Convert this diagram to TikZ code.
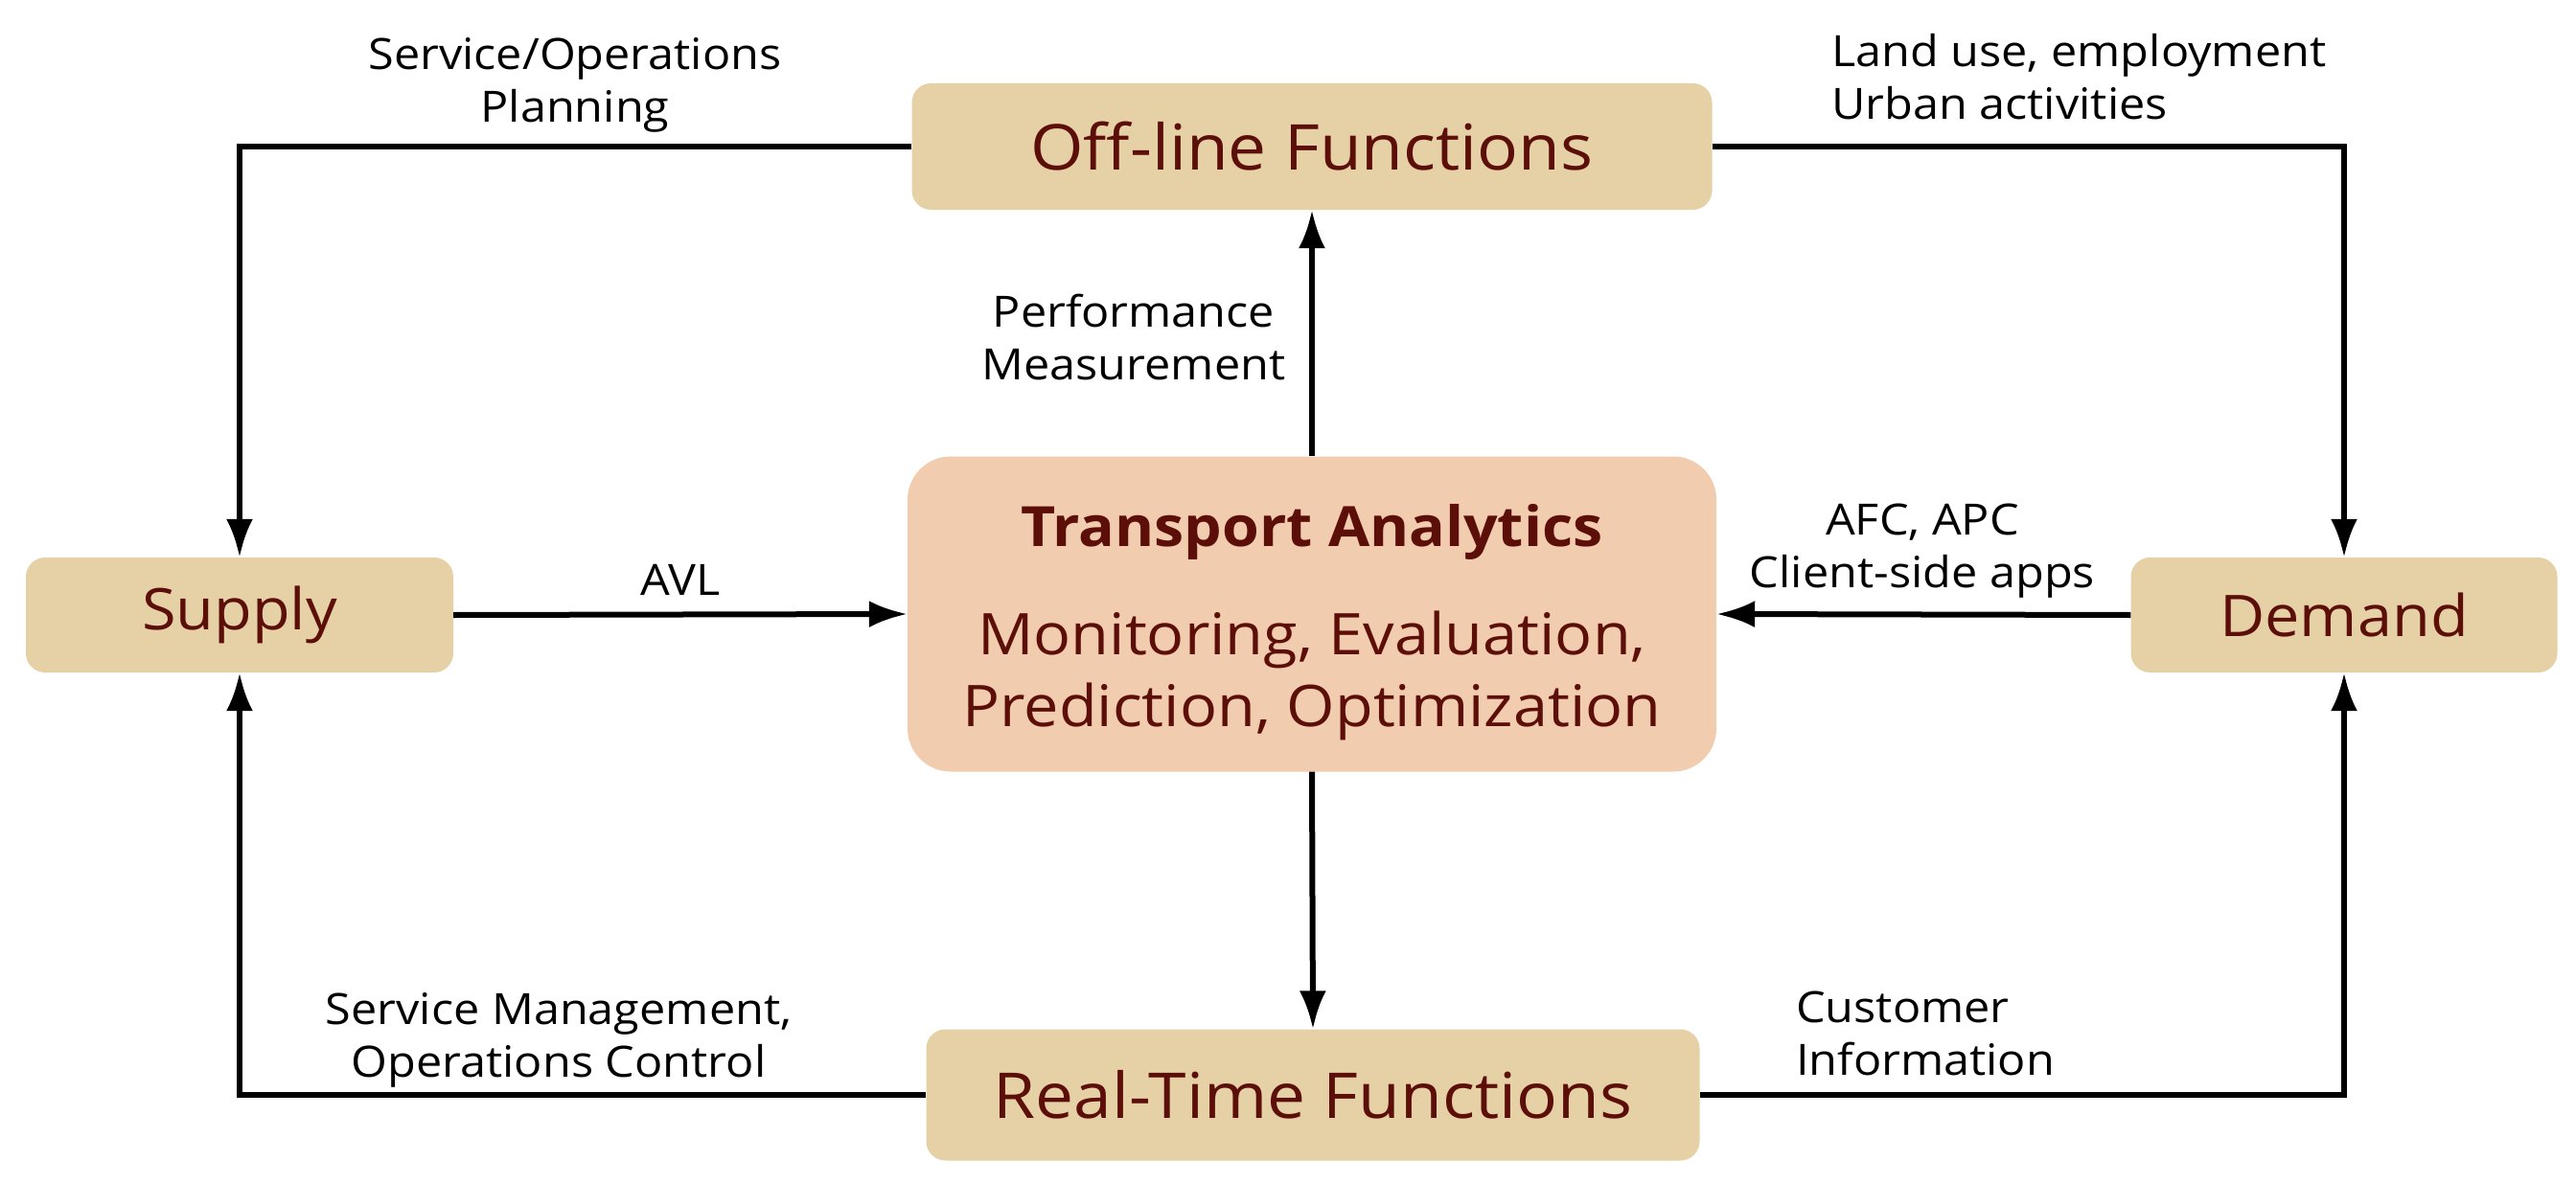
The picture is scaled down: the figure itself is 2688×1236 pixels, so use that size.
\documentclass[tikz,border=0pt]{standalone}
\usepackage{fontspec}
\setmainfont[FakeStretch=1.08]{Open Sans}
\usetikzlibrary{arrows.meta}
\definecolor{tanbox}{RGB}{230,208,165}
\definecolor{peach}{RGB}{242,204,174}
\definecolor{darkred}{RGB}{92,14,8}
\begin{document}
\begin{tikzpicture}[x=1pt,y=-1pt,
  box/.style={draw=none, fill=tanbox, rounded corners=20pt, text=darkred,
    font=\fontsize{60}{75}\selectfont, inner sep=0pt},
  fbox/.style={box, font=\fontsize{66}{75}\selectfont},
  core/.style={draw=none, fill=peach, rounded corners=45pt, text=darkred,
    font=\fontsize{60}{75}\selectfont, inner sep=0pt, align=center},
  lbl/.style={font=\fontsize{45}{55}\selectfont, inner sep=0pt},
  conn/.style={line width=6pt, -{Latex[length=40pt,width=28pt]}}]
\useasboundingbox (0,0) rectangle (2688,1236);
\node[fbox, minimum width=835pt, minimum height=132pt] (off) at (1369,153) {Off-line Functions};
\node[fbox, minimum width=807pt, minimum height=137pt] (rt) at (1370,1143) {Real-Time Functions};
\node[box, minimum width=446pt, minimum height=120pt] (sup) at (250,642) {Supply};
\node[box, minimum width=445pt, minimum height=120pt] (dem) at (2446,642) {Demand};
\node[core, minimum width=844pt, minimum height=329pt] (ta) at (1369,641)
  {\rule{0pt}{62pt}{\bfseries\fontsize{58}{70}\selectfont Transport Analytics}\\[38pt]Monitoring, Evaluation,\\Prediction, Optimization};
\draw[conn] (off.west) -| (sup.north);
\draw[conn] (off.east) -| (dem.north);
\draw[conn] (ta.north) -- (off.south);
\draw[conn] (sup.east) -- (ta.west);
\draw[conn] (dem.west) -- (ta.east);
\draw[conn] (ta.south) -- (rt.north);
\draw[conn] (rt.west) -| (sup.south);
\draw[conn] (rt.east) -| (dem.south);
\node[lbl, align=center] (l1) at (600,89) {Service/Operations\\Planning};
\node[lbl, align=left, anchor=west] (l2) at (1911,80) {Land use, employment\\Urban activities};
\node[lbl, align=center] (l3) at (1183,352) {Performance\\Measurement};
\node[lbl, align=center] (l4) at (710,605) {AVL};
\node[lbl, align=center] (l5) at (2006,575) {AFC, APC\\Client-side apps};
\node[lbl, align=center] (l6) at (583,1086) {Service Management,\\Operations Control};
\node[lbl, align=left, anchor=west] (l7) at (1874,1079) {Customer\\Information};
\end{tikzpicture}
\end{document}
